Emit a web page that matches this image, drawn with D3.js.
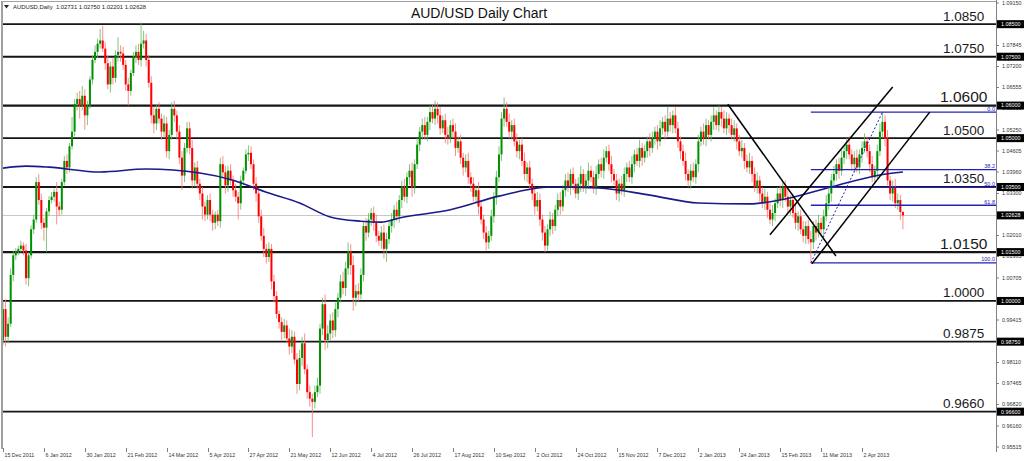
<!DOCTYPE html>
<html><head><meta charset="utf-8">
<script src="https://cdn.jsdelivr.net/npm/d3@7"></script>
<style>html,body{margin:0;padding:0;background:#fff;}svg{display:block;}</style>
</head><body><svg id="c" width="1024" height="461"></svg>
<script>
const symbolInfo = "AUDUSD,Daily  1.02731 1.02750 1.02201 1.02628";
const chartTitle = "AUD/USD Daily Chart";
const firstOpen = 0.9880;
const closes = [
0.9975,0.9890,0.9930,1.0080,1.0140,1.0150,1.0160,1.0170,1.0155,1.0070,
1.0140,1.0220,1.0250,1.0365,1.0310,1.0240,1.0225,1.0275,1.0310,1.0320,
1.0335,1.0290,1.0280,1.0365,1.0430,1.0410,1.0475,1.0520,1.0605,1.0620,
1.0600,1.0630,1.0570,1.0600,1.0680,1.0740,1.0765,1.0790,1.0800,1.0775,
1.0730,1.0665,1.0720,1.0685,1.0755,1.0765,1.0760,1.0725,1.0665,1.0645,
1.0700,1.0750,1.0765,1.0740,1.0790,1.0800,1.0740,1.0670,1.0570,1.0545,
1.0590,1.0560,1.0520,1.0545,1.0460,1.0510,1.0590,1.0570,1.0520,1.0440,
1.0385,1.0470,1.0530,1.0470,1.0370,1.0410,1.0360,1.0330,1.0290,1.0265,
1.0310,1.0265,1.0240,1.0265,1.0245,1.0420,1.0395,1.0355,1.0400,1.0370,
1.0340,1.0320,1.0300,1.0370,1.0400,1.0450,1.0455,1.0420,1.0360,1.0330,
1.0260,1.0200,1.0160,1.0135,1.0160,1.0060,1.0015,0.9960,0.9935,0.9905,
0.9925,0.9885,0.9860,0.9890,0.9820,0.9745,0.9825,0.9870,0.9790,0.9720,
0.9700,0.9690,0.9720,0.9740,0.9915,0.9990,0.9880,0.9900,0.9940,0.9910,
0.9975,1.0010,1.0060,1.0040,1.0100,1.0150,1.0110,1.0010,1.0030,1.0020,
1.0080,1.0230,1.0210,1.0250,1.0270,1.0240,1.0200,1.0185,1.0210,1.0160,
1.0190,1.0230,1.0250,1.0280,1.0260,1.0310,1.0350,1.0320,1.0380,1.0400,
1.0350,1.0420,1.0480,1.0520,1.0540,1.0510,1.0550,1.0580,1.0560,1.0590,
1.0570,1.0530,1.0555,1.0510,1.0500,1.0540,1.0520,1.0470,1.0490,1.0440,
1.0410,1.0430,1.0380,1.0360,1.0320,1.0340,1.0290,1.0250,1.0210,1.0180,
1.0200,1.0260,1.0320,1.0380,1.0450,1.0560,1.0590,1.0550,1.0520,1.0540,
1.0490,1.0460,1.0480,1.0430,1.0390,1.0410,1.0360,1.0330,1.0290,1.0310,
1.0250,1.0210,1.0170,1.0220,1.0250,1.0230,1.0280,1.0310,1.0290,1.0340,
1.0370,1.0350,1.0390,1.0360,1.0330,1.0360,1.0390,1.0350,1.0370,1.0400,
1.0380,1.0350,1.0390,1.0420,1.0400,1.0440,1.0460,1.0420,1.0390,1.0370,
1.0330,1.0360,1.0340,1.0390,1.0410,1.0380,1.0420,1.0450,1.0430,1.0470,
1.0440,1.0460,1.0490,1.0470,1.0500,1.0520,1.0490,1.0530,1.0550,1.0520,
1.0560,1.0540,1.0570,1.0530,1.0490,1.0460,1.0430,1.0390,1.0370,1.0400,
1.0380,1.0420,1.0490,1.0520,1.0500,1.0540,1.0510,1.0550,1.0570,1.0540,
1.0580,1.0560,1.0530,1.0560,1.0540,1.0510,1.0530,1.0490,1.0460,1.0470,
1.0430,1.0410,1.0430,1.0390,1.0350,1.0370,1.0330,1.0300,1.0320,1.0280,
1.0250,1.0270,1.0300,1.0330,1.0310,1.0350,1.0320,1.0290,1.0310,1.0270,
1.0240,1.0260,1.0220,1.0200,1.0230,1.0190,1.0180,1.0230,1.0210,1.0240,
1.0220,1.0260,1.0300,1.0330,1.0370,1.0390,1.0420,1.0400,1.0440,1.0460,
1.0480,1.0450,1.0420,1.0440,1.0410,1.0450,1.0470,1.0490,1.0460,1.0420,
1.0380,1.0400,1.0460,1.0520,1.0550,1.0500,1.0370,1.0330,1.0350,1.0300,
1.0310,1.02731,1.02628];
// wick lengths beyond the candle body, in pips
const wickUp = [
25,30,20,20,15,12,10,15,10,20, 10,12,15,15,25,20,15,10,12,15,
10,30,15,10,15,20,10,45,15,20, 25,30,20,15,10,15,20,15,35,45,
20,25,15,25,15,45,20,20,15,20, 10,15,20,25,65,30,20,15,20,25,
15,20,15,25,20,15,20,25,15,20, 20,15,20,20,25,15,20,15,20,15,
15,20,15,10,15,20,25,20,15,20, 15,20,15,15,10,15,23,20,15,20,
15,20,25,15,20,15,20,15,10,15, 20,15,30,20,15,20,25,20,30,15,
20,15,20,25,15,20,30,25,20,25, 20,15,20,30,20,30,25,30,20,25,
20,15,25,20,15,20,25,15,20,25, 20,15,20,15,25,15,20,25,15,20,
25,15,20,15,20,25,15,20,25,25, 20,25,15,20,25,15,20,25,15,20,
15,20,25,15,20,15,25,20,15,20, 15,20,15,20,25,20,35,20,25,15,
20,25,15,20,25,15,20,15,20,25, 20,15,20,15,25,20,15,20,25,15,
20,25,15,20,15,20,25,15,20,25, 15,20,25,15,20,25,15,20,25,15,
20,15,25,20,15,20,25,15,20,25, 15,20,15,25,20,15,20,25,15,20,
35,20,15,25,20,15,20,25,15,20, 25,15,20,15,25,20,15,20,25,15,
20,15,25,20,15,20,25,15,20,25, 15,20,25,15,20,25,15,20,25,15,
20,25,15,20,25,15,20,25,15,20, 25,15,20,25,15,20,25,15,20,25,
15,20,25,15,20,25,15,20,25,15, 20,25,15,20,25,15,20,25,15,20,
25,15,20,25,30,20,25,15,20,25, 20,15,2];
const wickDown = [
15,30,20,10,20,15,10,12,15,20, 25,10,15,10,15,20,40,75,15,10,
15,55,20,15,10,20,15,10,15,20, 40,15,45,30,10,15,10,20,15,10,
20,15,25,20,15,20,25,15,20,45, 15,10,20,15,20,15,20,15,25,30,
20,15,25,20,20,25,15,20,25,20, 45,20,15,20,25,20,15,20,40,20,
15,20,25,20,15,20,15,25,20,15, 20,15,50,20,15,10,20,15,20,25,
20,15,25,20,15,25,20,15,20,25, 20,15,25,20,15,30,20,25,15,20,
25,108,20,15,25,20,30,25,20,25, 20,25,15,20,25,20,30,40,25,20,
15,20,25,15,20,25,20,15,25,30, 40,15,20,25,15,20,25,15,20,25,
30,20,15,20,25,15,20,25,15,20, 25,20,15,25,20,15,20,25,15,20,
25,15,20,25,15,20,25,15,20,25, 20,15,20,25,15,20,25,15,20,25,
15,20,25,15,20,25,15,20,25,15, 20,25,20,15,20,25,15,20,25,15,
20,15,25,20,15,20,25,15,20,25, 15,20,25,15,20,25,15,20,25,15,
20,25,15,20,25,15,20,25,15,20, 25,15,20,25,15,20,25,15,20,25,
15,20,25,15,20,25,15,20,20,25, 15,20,25,15,20,25,15,20,25,15,
20,25,15,20,25,15,20,25,15,20, 25,15,20,25,15,20,25,15,20,25,
15,20,25,15,20,25,15,20,25,15, 20,25,15,20,25,15,63,20,25,15,
20,25,15,20,25,15,20,25,15,20, 25,15,20,25,15,20,25,15,20,25,
15,20,25,15,20,25,15,20,25,15, 20,25,43];
const dateLabels = ["15 Dec 2011","6 Jan 2012","30 Jan 2012","21 Feb 2012","14 Mar 2012","5 Apr 2012","27 Apr 2012","21 May 2012","12 Jun 2012","4 Jul 2012","26 Jul 2012","17 Aug 2012","10 Sep 2012","2 Oct 2012","24 Oct 2012","15 Nov 2012","7 Dec 2012","2 Jan 2013","24 Jan 2013","15 Feb 2013","11 Mar 2013","2 Apr 2013"];
const barsPerLabel = 16;
const maIndex = [0,9,18,38,56,77,90,103,116,128,140,148,155,175,194,214,233,253,272,292,304,324,343,352];
const maValue = [1.0408,1.0414,1.0411,1.0396,1.0405,1.0393,1.0371,1.0334,1.0301,1.0258,1.0245,1.0242,1.0255,1.0280,1.0322,1.0350,1.0347,1.0325,1.0301,1.0298,1.0310,1.0350,1.0387,1.0396];
const levelValues = [1.0850,1.0750,1.0600,1.0500,1.0350,1.0150,1.0000,0.9875,0.9660];
const levelLabels = ["1.0850","1.0750","1.0600","1.0500","1.0350","1.0150","1.0000","0.9875","0.9660"];
const levelBig = [false,false,true,false,false,true,false,false,false];
const axisTickLabels = ["1.09150","1.07845","1.07200","1.06555","1.05910","1.05250","1.04605","1.03960","1.03300","1.02010","1.01365","1.00705","0.99415","0.98110","0.97465","0.96820","0.96160","0.95515"];
const markedLabels = ["1.08500","1.07500","1.06000","1.05000","1.03500","1.02628","1.01500","1.00000","0.98750","0.96600"];
const currentPrice = 1.02628;
const fibPercents = [0, 38.2, 50, 61.8, 100];
const fibLabels = ["0.0","38.2","50.0","61.8","100.0"];
const fibLowPoint = [316, 1.0117];
const fibHighPoint = [344, 1.0580];
// trend / channel lines: [startBar, startPrice, endBar, endPrice]
const trendLines = [[283.5,1.0604,325.8,1.0138],[300,1.0203,348,1.0657],[316.4,1.0114,362.5,1.0580]];

(function(){
const svg = d3.select("#c");
const W = 1024, H = 461;
const pL = 3, pR = 996, pT = 2, pB = 449;
const x = d3.scaleLinear().domain([0, 336]).range([3, 862]);
const y = d3.scaleLinear().domain([0.95515, 1.09150]).range([447, 3]);
const font = "'Liberation Sans', Arial, sans-serif";

svg.append("rect").attr("width", W).attr("height", H).attr("fill", "#fff");
svg.append("defs").append("clipPath").attr("id","clip").append("rect")
  .attr("x", pL).attr("y", pT).attr("width", pR-pL).attr("height", pB-pT);
const plot = svg.append("g").attr("clip-path","url(#clip)");

plot.append("line").attr("x1", pL).attr("x2", pR)
  .attr("y1", Math.round(y(currentPrice))+0.5).attr("y2", Math.round(y(currentPrice))+0.5)
  .attr("stroke", "#c8c8c8").attr("stroke-width", 1);

levelValues.forEach((v,k) => {
  plot.append("line").attr("x1", pL).attr("x2", pR).attr("y1", y(v)).attr("y2", y(v))
    .attr("stroke", "#151515").attr("stroke-width", levelBig[k] ? 2.2 : 1.8);
});

const bars = closes.map((c,i) => {
  const o = i === 0 ? firstOpen : closes[i-1];
  const hi = Math.max(o,c) + wickUp[i]/10000;
  const lo = Math.min(o,c) - wickDown[i]/10000;
  return {i,o,c,hi,lo};
});
const cg = plot.append("g");
bars.forEach(b => {
  const col = b.c >= b.o ? "#009000" : "#ff0000";
  const wcol = b.c >= b.o ? "#60b860" : "#ff7070";
  const cx = x(b.i);
  cg.append("line").attr("x1", cx).attr("x2", cx).attr("y1", y(b.hi)).attr("y2", y(b.lo))
    .attr("stroke", wcol).attr("stroke-width", 1).attr("stroke-opacity", 0.8);
  const y1 = y(Math.max(b.o,b.c)), y2 = y(Math.min(b.o,b.c));
  cg.append("rect").attr("x", cx-1).attr("width", 2).attr("y", y1).attr("height", Math.max(1, y2-y1))
    .attr("fill", col);
});

plot.append("path").datum(maIndex.map((d,k)=>[d, maValue[k]]))
  .attr("d", d3.line().x(d=>x(d[0])).y(d=>y(d[1])).curve(d3.curveMonotoneX))
  .attr("fill","none").attr("stroke","#1a1a8a").attr("stroke-width",1.6);

const fibRange = fibHighPoint[1] - fibLowPoint[1];
fibPercents.forEach((p,k) => {
  const v = fibHighPoint[1] - p/100*fibRange;
  plot.append("line").attr("x1", x(fibLowPoint[0])).attr("x2", pR).attr("y1", y(v)).attr("y2", y(v))
    .attr("stroke","#2222bb").attr("stroke-width",1.3);
  svg.append("text").attr("x", 995).attr("y", y(v)-1.5).attr("text-anchor","end")
    .attr("font-family", font).attr("font-size", 5.5).attr("fill","#2222bb").text(fibLabels[k]);
});
plot.append("line").attr("x1", x(fibLowPoint[0])).attr("y1", y(fibLowPoint[1]))
  .attr("x2", x(fibHighPoint[0])).attr("y2", y(fibHighPoint[1]))
  .attr("stroke","#2222bb").attr("stroke-width",1).attr("stroke-dasharray","2,2");

trendLines.forEach(t => {
  plot.append("line").attr("x1", x(t[0])).attr("y1", y(t[1])).attr("x2", x(t[2])).attr("y2", y(t[3]))
    .attr("stroke","#000").attr("stroke-width",1.5);
});

levelValues.forEach((v,k) => {
  svg.append("text").attr("x", levelBig[k] ? 940 : 943).attr("y", y(v) - 3.5)
    .attr("font-family", font).attr("font-size", levelBig[k] ? 15.5 : 13.5).attr("fill","#1a1a1a").text(levelLabels[k]);
});

svg.append("line").attr("x1", 2).attr("x2", pR).attr("y1", 1.5).attr("y2", 1.5).attr("stroke","#a0a0a0").attr("stroke-width",1);
svg.append("line").attr("x1", 2).attr("x2", 2).attr("y1", 1).attr("y2", pB).attr("stroke","#a0a0a0").attr("stroke-width",2);
svg.append("line").attr("x1", pR+0.5).attr("x2", pR+0.5).attr("y1", 0).attr("y2", 452).attr("stroke","#808080").attr("stroke-width",1);

const ax = svg.append("g");
axisTickLabels.forEach(s => {
  const yy = y(+s);
  ax.append("line").attr("x1", pR).attr("x2", pR+3).attr("y1", yy).attr("y2", yy).attr("stroke","#808080");
  ax.append("text").attr("x", pR+6).attr("y", yy).attr("dy","0.35em")
    .attr("font-family", font).attr("font-size", 5.4).attr("fill","#333").text(s);
});
markedLabels.forEach(s => {
  const yy = y(+s);
  ax.append("rect").attr("x", pR+1).attr("y", yy-4).attr("width", W-pR-1).attr("height", 8).attr("fill","#000");
  ax.append("text").attr("x", pR+5).attr("y", yy).attr("dy","0.35em")
    .attr("font-family", font).attr("font-size", 5.4).attr("fill","#fff").text(s);
});

dateLabels.forEach((s,k) => {
  const xx = Math.round(x(k*barsPerLabel)) + 0.5;
  svg.append("line").attr("x1", xx).attr("x2", xx).attr("y1", pB-1).attr("y2", pB+3).attr("stroke","#808080");
  svg.append("text").attr("x", xx+1).attr("y", 457).attr("font-family", font).attr("font-size", 5.3).attr("fill","#333").text(s);
});

svg.append("text").attr("x", 479).attr("y", 18).attr("text-anchor","middle")
  .attr("font-family", font).attr("font-size", 14).attr("fill","#111").text(chartTitle);
svg.append("path").attr("d","M4,5 L9,5 L6.5,8.5 Z").attr("fill","#222");
svg.append("text").attr("x", 13).attr("y", 9).attr("font-family", font).attr("font-size", 5.9).attr("fill","#222")
  .style("white-space","pre").text(symbolInfo);
})();
</script></body></html>
